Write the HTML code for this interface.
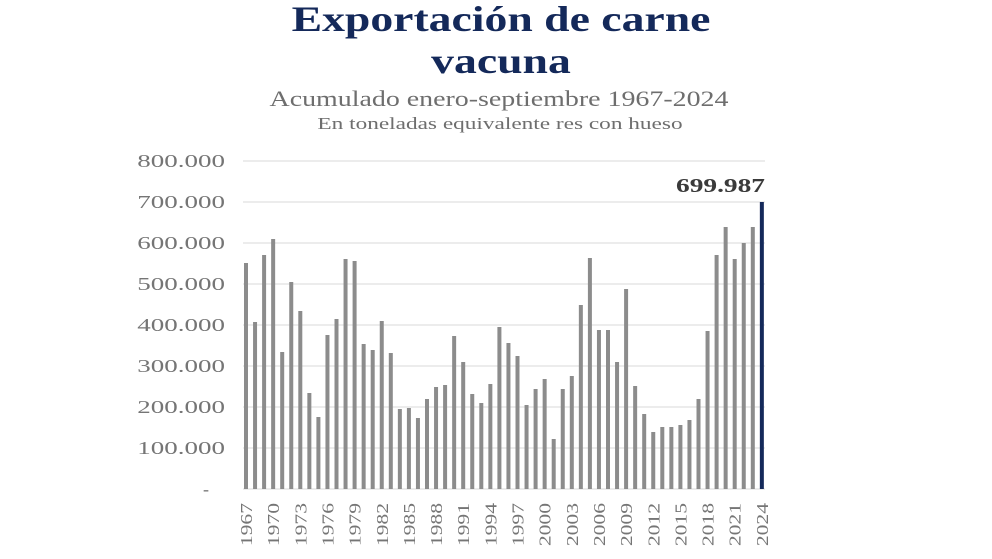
<!DOCTYPE html>
<html><head><meta charset="utf-8"><style>
html,body{margin:0;padding:0;background:#fff;}
svg{display:block;}
text{font-family:"Liberation Serif",serif;}
</style></head><body>
<svg width="992" height="559" viewBox="0 0 992 559" xmlns="http://www.w3.org/2000/svg">
<rect width="992" height="559" fill="#fff"/>
<text transform="translate(501,31) scale(1.27,1)" text-anchor="middle" font-size="36" font-weight="bold" fill="#14295a">Exportación de carne</text>
<text transform="translate(501,73) scale(1.27,1)" text-anchor="middle" font-size="36" font-weight="bold" fill="#14295a">vacuna</text>
<text transform="translate(499,106) scale(1.27,1)" text-anchor="middle" font-size="22" fill="#6e6e6e">Acumulado enero-septiembre 1967-2024</text>
<text transform="translate(500,129) scale(1.37,1)" text-anchor="middle" font-size="17" fill="#6e6e6e">En toneladas equivalente res con hueso</text>
<g stroke="#e6e6e6" stroke-width="1.5">
<line x1="243" x2="765" y1="161" y2="161"/><line x1="243" x2="765" y1="202" y2="202"/>
<line x1="243" x2="765" y1="243" y2="243"/><line x1="243" x2="765" y1="284" y2="284"/>
<line x1="243" x2="765" y1="325" y2="325"/><line x1="243" x2="765" y1="366" y2="366"/>
<line x1="243" x2="765" y1="407" y2="407"/><line x1="243" x2="765" y1="448" y2="448"/>
<line x1="243" x2="765" y1="489" y2="489"/>
</g>
<g font-size="18" fill="#757575" text-anchor="end">
<text transform="translate(225,167) scale(1.5,1)">800.000</text>
<text transform="translate(225,208) scale(1.5,1)">700.000</text>
<text transform="translate(225,249) scale(1.5,1)">600.000</text>
<text transform="translate(225,290) scale(1.5,1)">500.000</text>
<text transform="translate(225,331) scale(1.5,1)">400.000</text>
<text transform="translate(225,372) scale(1.5,1)">300.000</text>
<text transform="translate(225,413) scale(1.5,1)">200.000</text>
<text transform="translate(225,454) scale(1.5,1)">100.000</text>
<text x="209" y="495">-</text>
</g>
<g fill="#8c8c8c">
<rect x="244" y="263" width="4" height="226"/><rect x="253.05" y="322" width="4" height="167"/>
<rect x="262.1" y="255" width="4" height="234"/><rect x="271.15" y="239" width="4" height="250"/>
<rect x="280.2" y="352" width="4" height="137"/><rect x="289.25" y="282" width="4" height="207"/>
<rect x="298.3" y="311" width="4" height="178"/><rect x="307.35" y="393" width="4" height="96"/>
<rect x="316.4" y="417" width="4" height="72"/><rect x="325.45" y="335" width="4" height="154"/>
<rect x="334.5" y="319" width="4" height="170"/><rect x="343.55" y="259" width="4" height="230"/>
<rect x="352.6" y="261" width="4" height="228"/><rect x="361.65" y="344" width="4" height="145"/>
<rect x="370.7" y="350" width="4" height="139"/><rect x="379.75" y="321" width="4" height="168"/>
<rect x="388.8" y="353" width="4" height="136"/><rect x="397.85" y="409" width="4" height="80"/>
<rect x="406.9" y="408" width="4" height="81"/><rect x="415.95" y="418" width="4" height="71"/>
<rect x="425" y="399" width="4" height="90"/><rect x="434.05" y="387" width="4" height="102"/>
<rect x="443.1" y="385" width="4" height="104"/><rect x="452.15" y="336" width="4" height="153"/>
<rect x="461.2" y="362" width="4" height="127"/><rect x="470.25" y="394" width="4" height="95"/>
<rect x="479.3" y="403" width="4" height="86"/><rect x="488.35" y="384" width="4" height="105"/>
<rect x="497.4" y="327" width="4" height="162"/><rect x="506.45" y="343" width="4" height="146"/>
<rect x="515.5" y="356" width="4" height="133"/><rect x="524.55" y="405" width="4" height="84"/>
<rect x="533.6" y="389" width="4" height="100"/><rect x="542.65" y="379" width="4" height="110"/>
<rect x="551.7" y="439" width="4" height="50"/><rect x="560.75" y="389" width="4" height="100"/>
<rect x="569.8" y="376" width="4" height="113"/><rect x="578.85" y="305" width="4" height="184"/>
<rect x="587.9" y="258" width="4" height="231"/><rect x="596.95" y="330" width="4" height="159"/>
<rect x="606" y="330" width="4" height="159"/><rect x="615.05" y="362" width="4" height="127"/>
<rect x="624.1" y="289" width="4" height="200"/><rect x="633.15" y="386" width="4" height="103"/>
<rect x="642.2" y="414" width="4" height="75"/><rect x="651.25" y="432" width="4" height="57"/>
<rect x="660.3" y="427" width="4" height="62"/><rect x="669.35" y="427" width="4" height="62"/>
<rect x="678.4" y="425" width="4" height="64"/><rect x="687.45" y="420" width="4" height="69"/>
<rect x="696.5" y="399" width="4" height="90"/><rect x="705.55" y="331" width="4" height="158"/>
<rect x="714.6" y="255" width="4" height="234"/><rect x="723.65" y="227" width="4" height="262"/>
<rect x="732.7" y="259" width="4" height="230"/><rect x="741.75" y="243" width="4" height="246"/>
<rect x="750.8" y="227" width="4" height="262"/>
</g>
<rect x="759.85" y="202" width="4" height="287" fill="#14295a"/>
<text transform="translate(765,192) scale(1.37,1)" text-anchor="end" font-size="20" font-weight="bold" fill="#3a3a3a">699.987</text>
<g font-size="17" fill="#757575" text-anchor="end">
<text transform="translate(252,503) rotate(-90) scale(1.27,1)">1967</text>
<text transform="translate(279.15,503) rotate(-90) scale(1.27,1)">1970</text>
<text transform="translate(306.3,503) rotate(-90) scale(1.27,1)">1973</text>
<text transform="translate(333.45,503) rotate(-90) scale(1.27,1)">1976</text>
<text transform="translate(360.6,503) rotate(-90) scale(1.27,1)">1979</text>
<text transform="translate(387.75,503) rotate(-90) scale(1.27,1)">1982</text>
<text transform="translate(414.9,503) rotate(-90) scale(1.27,1)">1985</text>
<text transform="translate(442.05,503) rotate(-90) scale(1.27,1)">1988</text>
<text transform="translate(469.2,503) rotate(-90) scale(1.27,1)">1991</text>
<text transform="translate(496.35,503) rotate(-90) scale(1.27,1)">1994</text>
<text transform="translate(523.5,503) rotate(-90) scale(1.27,1)">1997</text>
<text transform="translate(550.65,503) rotate(-90) scale(1.27,1)">2000</text>
<text transform="translate(577.8,503) rotate(-90) scale(1.27,1)">2003</text>
<text transform="translate(604.95,503) rotate(-90) scale(1.27,1)">2006</text>
<text transform="translate(632.1,503) rotate(-90) scale(1.27,1)">2009</text>
<text transform="translate(659.25,503) rotate(-90) scale(1.27,1)">2012</text>
<text transform="translate(686.4,503) rotate(-90) scale(1.27,1)">2015</text>
<text transform="translate(713.55,503) rotate(-90) scale(1.27,1)">2018</text>
<text transform="translate(740.7,503) rotate(-90) scale(1.27,1)">2021</text>
<text transform="translate(767.85,503) rotate(-90) scale(1.27,1)">2024</text>
</g>
</svg>
</body></html>
